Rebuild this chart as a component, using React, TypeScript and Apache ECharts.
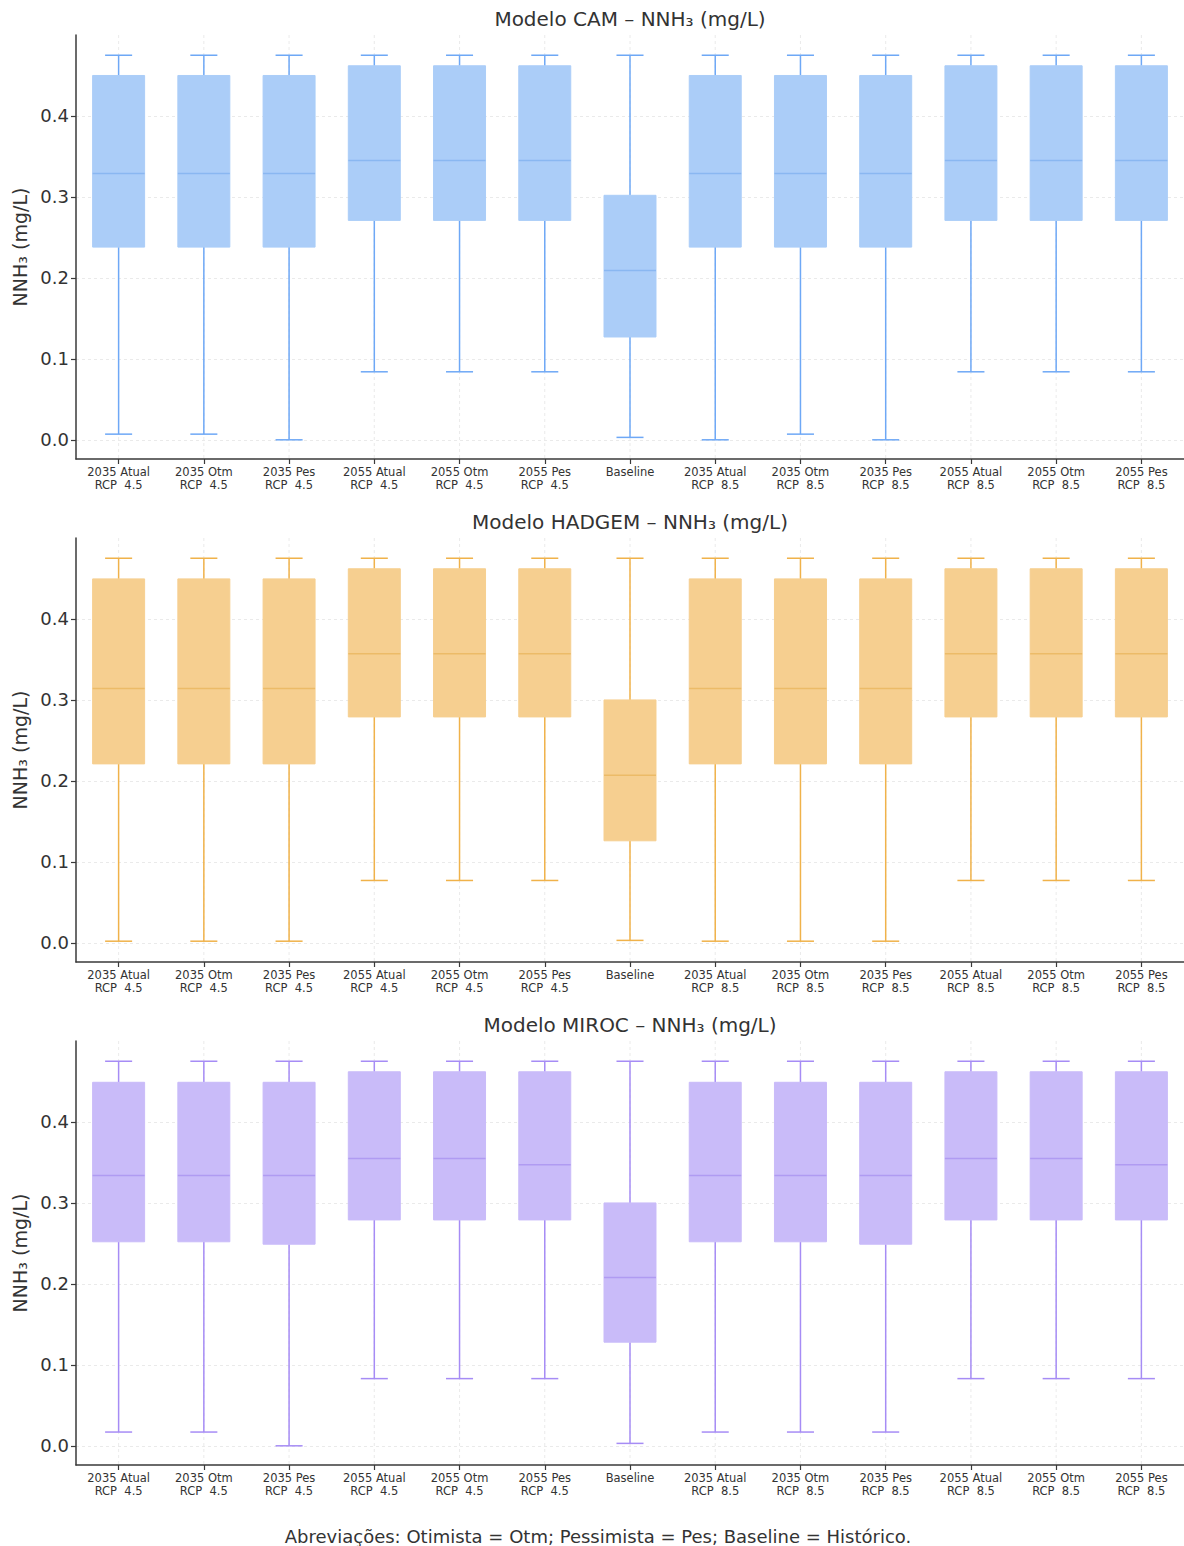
import React, { useEffect, useRef } from "react";
import * as echarts from "echarts";

const categories = [
  "2035 Atual\nRCP  4.5", "2035 Otm\nRCP  4.5", "2035 Pes\nRCP  4.5",
  "2055 Atual\nRCP  4.5", "2055 Otm\nRCP  4.5", "2055 Pes\nRCP  4.5",
  "Baseline",
  "2035 Atual\nRCP  8.5", "2035 Otm\nRCP  8.5", "2035 Pes\nRCP  8.5",
  "2055 Atual\nRCP  8.5", "2055 Otm\nRCP  8.5", "2055 Pes\nRCP  8.5",
];

const yTicks = [0, 0.1, 0.2, 0.3, 0.4];

// CAM
const camMin = [0.007, 0.007, 0.0, 0.084, 0.084, 0.084, 0.003, 0.0, 0.007, 0.0, 0.084, 0.084, 0.084];
const camQ1 = [0.238, 0.238, 0.238, 0.271, 0.271, 0.271, 0.127, 0.238, 0.238, 0.238, 0.271, 0.271, 0.271];
const camMed = [0.329, 0.329, 0.329, 0.345, 0.345, 0.345, 0.209, 0.329, 0.329, 0.329, 0.345, 0.345, 0.345];
const camQ3 = [0.45, 0.45, 0.45, 0.462, 0.462, 0.462, 0.302, 0.45, 0.45, 0.45, 0.462, 0.462, 0.462];
const camMax = [0.475, 0.475, 0.475, 0.475, 0.475, 0.475, 0.475, 0.475, 0.475, 0.475, 0.475, 0.475, 0.475];

// HADGEM
const hadMin = [0.002, 0.002, 0.002, 0.077, 0.077, 0.077, 0.003, 0.002, 0.002, 0.002, 0.077, 0.077, 0.077];
const hadQ1 = [0.221, 0.221, 0.221, 0.279, 0.279, 0.279, 0.126, 0.221, 0.221, 0.221, 0.279, 0.279, 0.279];
const hadMed = [0.314, 0.314, 0.314, 0.357, 0.357, 0.357, 0.207, 0.314, 0.314, 0.314, 0.357, 0.357, 0.357];
const hadQ3 = [0.4495, 0.4495, 0.4495, 0.462, 0.462, 0.462, 0.3, 0.4495, 0.4495, 0.4495, 0.462, 0.462, 0.462];
const hadMax = [0.475, 0.475, 0.475, 0.475, 0.475, 0.475, 0.475, 0.475, 0.475, 0.475, 0.475, 0.475, 0.475];

// MIROC
const mirMin = [0.017, 0.017, 0.0, 0.083, 0.083, 0.083, 0.003, 0.017, 0.017, 0.017, 0.083, 0.083, 0.083];
const mirQ1 = [0.252, 0.252, 0.249, 0.279, 0.279, 0.279, 0.128, 0.252, 0.252, 0.249, 0.279, 0.279, 0.279];
const mirMed = [0.334, 0.334, 0.334, 0.355, 0.355, 0.347, 0.208, 0.334, 0.334, 0.334, 0.355, 0.355, 0.347];
const mirQ3 = [0.449, 0.449, 0.449, 0.462, 0.462, 0.462, 0.3, 0.449, 0.449, 0.449, 0.462, 0.462, 0.462];
const mirMax = [0.475, 0.475, 0.475, 0.475, 0.475, 0.475, 0.475, 0.475, 0.475, 0.475, 0.475, 0.475, 0.475];

const titles = ["Modelo CAM – NNH₃ (mg/L)", "Modelo HADGEM – NNH₃ (mg/L)", "Modelo MIROC – NNH₃ (mg/L)"];
const footnote = "Abreviações: Otimista = Otm; Pessimista = Pes; Baseline = Histórico.";
const yName = "NNH₃ (mg/L)";

const FONT = "DejaVu Sans";

const models = [
  { min: camMin, q1: camQ1, med: camMed, q3: camQ3, max: camMax, fill: "#abcdf8", line: "#6ea8f6", median: "#8ab7f1" },
  { min: hadMin, q1: hadQ1, med: hadMed, q3: hadQ3, max: hadMax, fill: "#f6cf90", line: "#f0b24a", median: "#ecbb68" },
  { min: mirMin, q1: mirQ1, med: mirMed, q3: mirQ3, max: mirMax, fill: "#c9bbf9", line: "#a68cf5", median: "#b09bf2" },
];

const gridTops = [35, 538, 1041];
const gridHeight = 424;
const GRID_LEFT = 76;
const Y_MIN = -0.0237;
const Y_MAX = 0.5;

function makeRender(m: any) {
  return (params: any, api: any) => {
    const idx = api.value(0);
    const vMin = api.value(1);
    const q1 = api.value(2);
    const med = api.value(3);
    const q3 = api.value(4);
    const vMax = api.value(5);
    const x = api.coord([idx, med])[0];
    const band = api.size([1, 0])[0];
    const bw = band * 0.61;
    const capW = bw * 0.52;
    const yMin = api.coord([idx, vMin])[1];
    const yQ1 = api.coord([idx, q1])[1];
    const yMed = api.coord([idx, med])[1];
    const yQ3 = api.coord([idx, q3])[1];
    const yMax = api.coord([idx, vMax])[1];
    const yTop = api.coord([idx, Y_MAX])[1];
    const yBot = api.coord([idx, Y_MIN])[1];
    const ls = { stroke: m.line, lineWidth: 1.5 };
    return {
      type: "group",
      children: [
        { type: "line", shape: { x1: x, y1: yTop, x2: x, y2: yBot }, style: { stroke: "#e4e4e4", lineWidth: 0.8, lineDash: [3, 3] }, z2: 0 },
        { type: "line", shape: { x1: x, y1: yQ3, x2: x, y2: yMax }, style: ls, z2: 1 },
        { type: "line", shape: { x1: x, y1: yQ1, x2: x, y2: yMin }, style: ls, z2: 1 },
        { type: "line", shape: { x1: x - capW / 2, y1: yMax, x2: x + capW / 2, y2: yMax }, style: ls, z2: 1 },
        { type: "line", shape: { x1: x - capW / 2, y1: yMin, x2: x + capW / 2, y2: yMin }, style: ls, z2: 1 },
        { type: "rect", shape: { x: x - bw / 2, y: yQ3, width: bw, height: yQ1 - yQ3 }, style: { fill: m.fill, stroke: m.fill, lineWidth: 1 }, z2: 2 },
        { type: "line", shape: { x1: x - bw / 2, y1: yMed, x2: x + bw / 2, y2: yMed }, style: { stroke: m.median, lineWidth: 1.5 }, z2: 3 },
      ],
    };
  };
}

export default function App() {
  const ref = useRef<HTMLDivElement>(null);
  useEffect(() => {
    if (!ref.current) return;
    const chart = echarts.init(ref.current, undefined, { renderer: "svg" });

    const grids = gridTops.map((t) => ({ left: GRID_LEFT, right: 0, top: t, height: gridHeight }));
    const xAxes = gridTops.map((_, k) => ({
      type: "category",
      gridIndex: k,
      data: categories,
      boundaryGap: true,
      axisLine: { show: true, onZero: false, lineStyle: { color: "#3a3a3a", width: 1.5 } },
      axisTick: { show: true, alignWithLabel: true, interval: 0, length: 5, lineStyle: { color: "#3a3a3a", width: 1.2 } },
      axisLabel: { interval: 0, fontFamily: FONT, fontSize: 11.5, lineHeight: 13.5, color: "#333", margin: 6 },
      splitLine: { show: false },
    }));
    const yAxes = gridTops.map((_, k) => ({
      type: "value",
      gridIndex: k,
      min: Y_MIN,
      max: Y_MAX,
      name: yName,
      nameLocation: "middle",
      nameGap: 46,
      nameTextStyle: { fontFamily: FONT, fontSize: 19, color: "#333" },
      axisLine: { show: true, onZero: false, lineStyle: { color: "#3a3a3a", width: 1.5 } },
      axisTick: { show: true, length: 5, customValues: yTicks, lineStyle: { color: "#3a3a3a", width: 1.2 } },
      axisLabel: {
        customValues: yTicks,
        fontFamily: FONT,
        fontSize: 18,
        color: "#333",
        margin: 7,
        formatter: (v: number) => v.toFixed(1),
      },
      splitLine: { show: true, lineStyle: { color: "#e4e4e4", width: 0.8, type: [3, 3] } },
    }));
    const series = models.map((m, k) => ({
      type: "custom",
      xAxisIndex: k,
      yAxisIndex: k,
      renderItem: makeRender(m),
      encode: { x: 0, y: [1, 2, 3, 4, 5] },
      data: categories.map((_, i) => [i, m.min[i], m.q1[i], m.med[i], m.q3[i], m.max[i]]),
      clip: false,
    }));
    const titleCenterX = (GRID_LEFT + 1184) / 2;
    const titleTexts = titles.map((t, k) => ({
      type: "text",
      x: titleCenterX,
      y: gridTops[k] - 16,
      style: { text: t, fontFamily: FONT, fontSize: 20, fill: "#333", align: "center", verticalAlign: "middle" },
    }));

    chart.setOption({
      animation: false,
      backgroundColor: "#ffffff",
      grid: grids,
      xAxis: xAxes,
      yAxis: yAxes,
      series,
      graphic: [
        ...titleTexts,
        {
          type: "text",
          x: 598,
          y: 1536,
          style: { text: footnote, fontFamily: FONT, fontSize: 18, fill: "#333", align: "center", verticalAlign: "middle" },
        },
      ],
    } as any);
    return () => chart.dispose();
  }, []);
  return <div ref={ref} style={{ position: "absolute", left: 0, top: 0, width: 1184, height: 1546 }} />;
}
